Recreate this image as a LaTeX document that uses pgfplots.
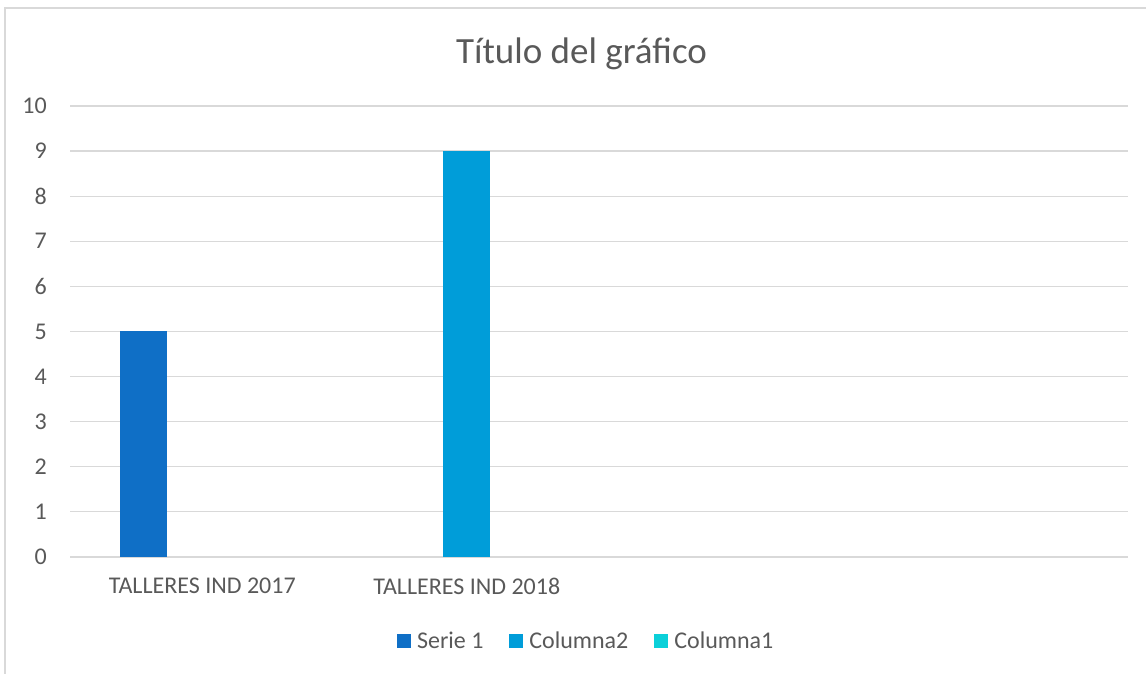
\documentclass[border=0pt]{standalone}
\usepackage{fontspec}
\setmainfont{Carlito}
\usepackage{pgfplots}
\pgfplotsset{compat=1.18}
\definecolor{serA}{HTML}{0F6FC6}
\definecolor{serB}{HTML}{009DD9}
\definecolor{serC}{HTML}{0BD0D9}
\definecolor{txt}{HTML}{595959}
\definecolor{gridc}{HTML}{D9D9D9}
\begin{document}
\begin{tikzpicture}[x=1pt,y=1pt]
\useasboundingbox (0,0) rectangle (1146,674);
\draw[color=gridc, line width=1.2pt] (5,0) -- (5,666) -- (1146,666);
\node[text=txt, font=\fontsize{37}{44}\selectfont, anchor=base, inner sep=0pt] at (581.5,610) {Título del gráfico};
\begin{axis}[
  at={(70pt,117pt)}, anchor=south west, scale only axis,
  width=1058pt, height=451pt,
  xmin=-0.5, xmax=3.5, ymin=0, ymax=10,
  xtick={0,1,2,3}, xticklabels={TALLERES IND 2017,TALLERES IND 2018,{},{}},
  ytick={0,1,...,10},
  axis line style={draw=none},
  major tick length=0pt,
  ymajorgrids, grid style={color=gridc, line width=1.2pt},
  tick label style={font=\fontsize{24}{28}\selectfont, text=txt, inner sep=0pt},
  /pgf/number format/assume math mode=true,
  yticklabel style={anchor=east, xshift=-23pt},
  xticklabel style={anchor=north, yshift=-21pt},
  clip=false,
  legend image code/.code={\path[#1, draw=none] (0pt,-7pt) rectangle (14pt,7pt);
     \path[draw=none, fill=none] (0pt,0pt) -- (20pt,0pt);},
  legend style={at={(0.487,-0.186)}, anchor=center, draw=none, fill=none,
    legend columns=-1, font=\fontsize{24}{28}\selectfont, text=txt,
    nodes={inner sep=0pt}, column sep=0pt},
]
\addplot[ybar, bar width=47pt, bar shift=-58.5pt, fill=serA, draw=none] coordinates {(0,5)};
\addlegendentry{Serie 1\hspace*{26pt}}
\addplot[ybar, bar width=47pt, bar shift=0pt, fill=serB, draw=none] coordinates {(1,9)};
\addlegendentry{Columna2\hspace*{26pt}}
\addlegendimage{fill=serC, draw=none}
\addlegendentry{Columna1}
\end{axis}
\end{tikzpicture}
\end{document}
